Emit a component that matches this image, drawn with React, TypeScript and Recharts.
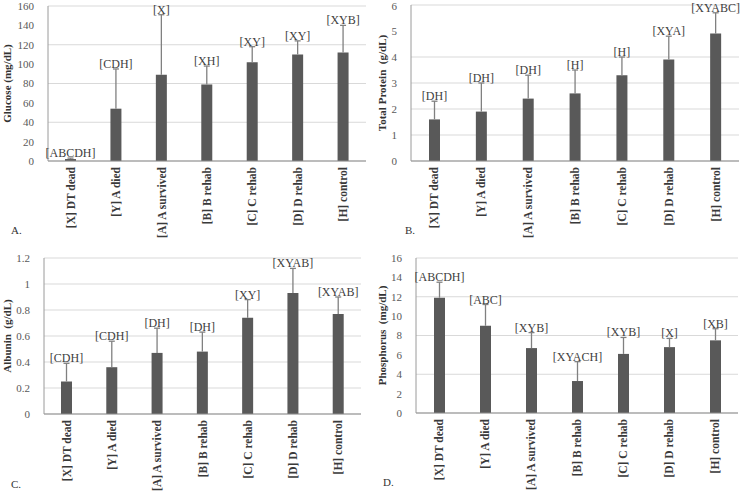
import React from 'react';
import { BarChart, Bar, XAxis, YAxis, CartesianGrid, LabelList } from 'recharts';

const categories = ['[X] DT dead', '[Y] A died', '[A] A survived', '[B] B rehab', '[C] C rehab', '[D] D rehab', '[H] control'];

// bar heights, tops of the error whiskers, significance letters
const glucose = [2, 54, 89, 79, 102, 110, 112];
const glucoseTop = [3, 95, 151, 98, 118, 124, 140];
const glucoseNotes = ['[ABCDH]', '[CDH]', '[X]', '[XH]', '[XY]', '[XY]', '[XYB]'];

const protein = [1.6, 1.9, 2.4, 2.6, 3.3, 3.9, 4.9];
const proteinTop = [2.3, 3.0, 3.3, 3.5, 4.0, 4.8, 5.7];
const proteinNotes = ['[DH]', '[DH]', '[DH]', '[H]', '[H]', '[XYA]', '[XYABC]'];

const albumin = [0.25, 0.36, 0.47, 0.48, 0.74, 0.93, 0.77];
const albuminTop = [0.39, 0.56, 0.66, 0.63, 0.88, 1.12, 0.9];
const albuminNotes = ['[CDH]', '[CDH]', '[DH]', '[DH]', '[XY]', '[XYAB]', '[XYAB]'];

const phosphorus = [11.9, 9.0, 6.7, 3.3, 6.1, 6.8, 7.5];
const phosphorusTop = [13.5, 11.2, 8.3, 5.3, 7.8, 7.7, 8.7];
const phosphorusNotes = ['[ABCDH]', '[ABC]', '[XYB]', '[XYACH]', '[XYB]', '[X]', '[XB]'];

const glucoseTicks = [0, 20, 40, 60, 80, 100, 120, 140, 160];
const proteinTicks = [0, 1, 2, 3, 4, 5, 6];
const albuminTicks = [0, 0.2, 0.4, 0.6, 0.8, 1, 1.2];
const phosphorusTicks = [0, 2, 4, 6, 8, 10, 12, 14, 16];

const SERIF = '"Liberation Serif", "Times New Roman", serif';
const BAR = '#595959';
const WHISKER = '#808080';

const buildRows = (vals: number[], tops: number[], notes: string[]) =>
  categories.map((c, i) => ({ name: c, value: vals[i], err: tops[i] - vals[i], note: notes[i] }));

const CatTick = (props: any) => {
  const { x, y, payload } = props;
  const ty = y + 6;
  return (
    <text
      x={x}
      y={ty}
      transform={`rotate(-90, ${x}, ${ty})`}
      textAnchor="end"
      dominantBaseline="central"
      fontFamily={SERIF}
      fontWeight="bold"
      fontSize={11.5}
      fill="#3a3a3a"
    >
      {payload.value}
    </text>
  );
};

const Whisker = (props: any) => {
  const { x, y, width, height } = props;
  if (x == null || y == null) return null;
  const cx = x + width / 2;
  return (
    <g>
      <line x1={cx} x2={cx} y1={y + height} y2={y} stroke={WHISKER} strokeWidth={1.3} />
      <line x1={cx - 3} x2={cx + 3} y1={y} y2={y} stroke={WHISKER} strokeWidth={1.3} />
    </g>
  );
};

const NoteLabel = (props: any) => {
  const { x, y, width, value } = props;
  return (
    <text x={x + width / 2} y={y - 1} textAnchor="middle" fontFamily={SERIF} fontSize={12} fill="#404040">
      {value}
    </text>
  );
};

type PanelProps = {
  left: number;
  top: number;
  height: number;
  rows: any[];
  ticks: number[];
  title: string;
  letter: string;
  letterX: number;
  letterY: number;
  axisWidth: number;
  titleX: number;
  margin: { top: number; right: number; left: number; bottom: number };
  xHeight: number;
};

const Panel: React.FC<PanelProps> = ({ left, top, height, rows, ticks, title, letter, letterX, letterY, axisWidth, titleX, margin, xHeight }) => (
  <div style={{ position: 'absolute', left, top, width: 370, height }}>
    <BarChart width={370} height={height} data={rows} margin={margin} barCategoryGap={0}>
      <CartesianGrid vertical={false} stroke="#d9d9d9" />
      <XAxis
        dataKey="name"
        tick={<CatTick />}
        tickLine={false}
        tickSize={0}
        tickMargin={0}
        interval={0}
        height={xHeight}
        stroke="#8c8c8c"
      />
      <YAxis
        domain={[ticks[0], ticks[ticks.length - 1]]}
        ticks={ticks}
        width={axisWidth}
        tickLine={false}
        stroke="#9a9a9a"
        tick={{ fontFamily: SERIF, fontSize: 11, fill: '#595959' }}
        tickMargin={8}
        label={{
          content: ({ viewBox }: any) => {
            const cx = viewBox.x + titleX;
            const cy = viewBox.y + viewBox.height / 2;
            return (
              <text
                x={cx}
                y={cy}
                transform={`rotate(-90, ${cx}, ${cy})`}
                textAnchor="middle"
                dominantBaseline="central"
                fontFamily={SERIF}
                fontWeight="bold"
                fontSize={11}
                fill="#333"
                style={{ whiteSpace: 'pre' }}
              >
                {title}
              </text>
            );
          },
        }}
      />
      <Bar dataKey="value" stackId="s" fill={BAR} barSize={11} isAnimationActive={false} />
      <Bar dataKey="err" stackId="s" fill="none" barSize={11} shape={<Whisker />} isAnimationActive={false}>
        <LabelList dataKey="note" content={<NoteLabel />} />
      </Bar>
    </BarChart>
    <div
      style={{
        position: 'absolute',
        left: letterX,
        top: letterY,
        fontFamily: SERIF,
        fontSize: 11,
        color: '#333',
        lineHeight: '12px',
      }}
    >
      {letter}
    </div>
  </div>
);

export default function App() {
  return (
    <div style={{ position: 'absolute', left: 0, top: 0, width: 740, height: 491, background: '#fff' }}>
      <Panel
        left={0}
        top={0}
        height={245}
        rows={buildRows(glucose, glucoseTop, glucoseNotes)}
        ticks={glucoseTicks}
        title="Glucose (mg/dL)"
        letter="A."
        letterX={11}
        letterY={224}
        axisWidth={48}
        titleX={7}
        margin={{ top: 6, right: 4, left: 0, bottom: 0 }}
        xHeight={84}
      />
      <Panel
        left={370}
        top={0}
        height={245}
        rows={buildRows(protein, proteinTop, proteinNotes)}
        ticks={proteinTicks}
        title="Total Protein  (g/dL)"
        letter="B."
        letterX={35}
        letterY={224}
        axisWidth={41}
        titleX={12}
        margin={{ top: 5, right: 1, left: 0, bottom: 0 }}
        xHeight={84}
      />
      <Panel
        left={0}
        top={245}
        height={246}
        rows={buildRows(albumin, albuminTop, albuminNotes)}
        ticks={albuminTicks}
        title="Albunin  (g/dL)"
        letter="C."
        letterX={11}
        letterY={233}
        axisWidth={44}
        titleX={7}
        margin={{ top: 13, right: 9, left: 0, bottom: 0 }}
        xHeight={77}
      />
      <Panel
        left={370}
        top={245}
        height={246}
        rows={buildRows(phosphorus, phosphorusTop, phosphorusNotes)}
        ticks={phosphorusTicks}
        title="Phosphorus  (mg/dL)"
        letter="D."
        letterX={13}
        letterY={231}
        axisWidth={46}
        titleX={12}
        margin={{ top: 13, right: 2, left: 0, bottom: 0 }}
        xHeight={78}
      />
    </div>
  );
}
